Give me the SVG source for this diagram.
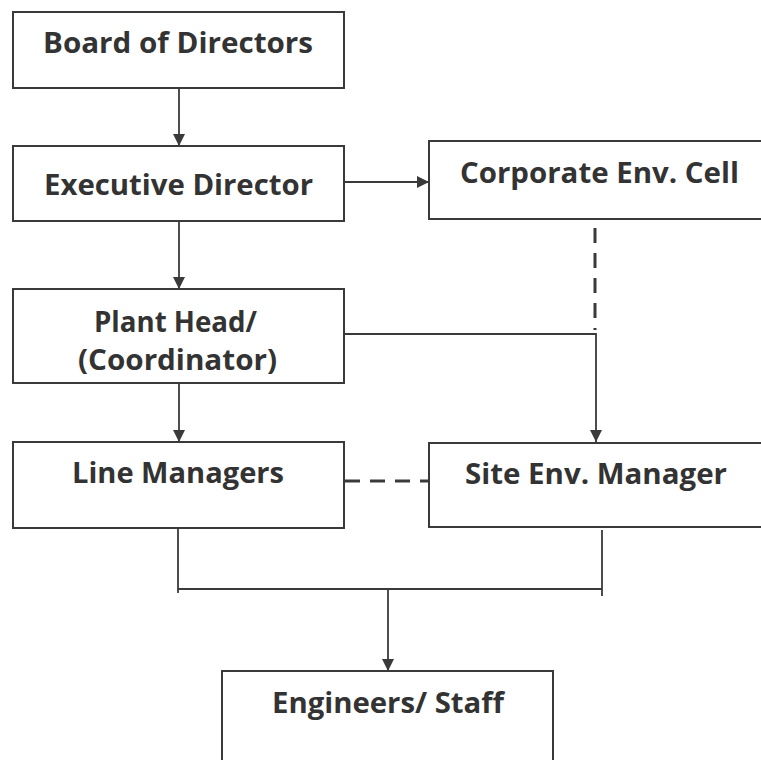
<svg xmlns="http://www.w3.org/2000/svg" width="761" height="760" viewBox="0 0 761 760">
  <style>
    .box { fill: #ffffff; stroke: #3a3a3a; stroke-width: 2; }
    .lbl { font-family: "Open Sans", "Noto Sans", "DejaVu Sans", sans-serif; font-weight: bold; font-size: 28px; fill: #333333; }
    .ln { fill: none; stroke: #3a3a3a; stroke-width: 1.8; }
    .dash { fill: none; stroke: #3a3a3a; stroke-width: 3; stroke-dasharray: 15 10; }
  </style>
  <defs>
    <marker id="arr" viewBox="0 0 12 12" refX="12" refY="6" markerWidth="12" markerHeight="12" markerUnits="userSpaceOnUse" orient="auto">
      <path d="M0,0 L12,6 L0,12 Z" fill="#3a3a3a"/>
    </marker>
  </defs>
  <rect width="761" height="760" fill="#ffffff"/>

  <g id="connectors">
    <line class="ln" x1="179" y1="88" x2="179" y2="146" marker-end="url(#arr)"/>
    <line class="ln" x1="179" y1="221" x2="179" y2="289" marker-end="url(#arr)"/>
    <line class="ln" x1="179" y1="383" x2="179" y2="442" marker-end="url(#arr)"/>
    <line class="ln" x1="344" y1="182" x2="429" y2="182" marker-end="url(#arr)"/>
    <path class="ln" d="M344 334 H596 V442" marker-end="url(#arr)"/>
    <line class="dash" x1="595" y1="228" x2="595" y2="330"/>
    <line class="dash" x1="345" y1="481" x2="429" y2="481"/>
    <path class="ln" d="M178 528 V593"/>
    <path class="ln" d="M602 530 V596"/>
    <path class="ln" d="M178 589 H602"/>
    <line class="ln" x1="388" y1="589" x2="388" y2="671" marker-end="url(#arr)"/>
  </g>

  <g id="board">
    <rect class="box" x="13" y="12" width="331" height="76"/>
    <text class="lbl" x="178" y="53" text-anchor="middle" textLength="270" lengthAdjust="spacingAndGlyphs">Board of Directors</text>
  </g>
  <g id="executive">
    <rect class="box" x="13" y="146" width="331" height="75"/>
    <text class="lbl" x="178.5" y="195" text-anchor="middle" textLength="269" lengthAdjust="spacingAndGlyphs">Executive Director</text>
  </g>
  <g id="corporate">
    <rect class="box" x="429" y="141" width="345" height="78"/>
    <text class="lbl" x="599.5" y="183" text-anchor="middle" textLength="279" lengthAdjust="spacingAndGlyphs">Corporate Env. Cell</text>
  </g>
  <g id="plant">
    <rect class="box" x="13" y="289" width="331" height="94"/>
    <text class="lbl" x="175.5" y="332" text-anchor="middle" textLength="163" lengthAdjust="spacingAndGlyphs">Plant Head/</text>
    <text class="lbl" x="177.5" y="370" text-anchor="middle" textLength="199" lengthAdjust="spacingAndGlyphs">(Coordinator)</text>
  </g>
  <g id="line-managers">
    <rect class="box" x="13" y="442" width="331" height="86"/>
    <text class="lbl" x="178" y="483" text-anchor="middle" textLength="212" lengthAdjust="spacingAndGlyphs">Line Managers</text>
  </g>
  <g id="site-env">
    <rect class="box" x="429" y="443" width="345" height="84"/>
    <text class="lbl" x="596" y="484" text-anchor="middle" textLength="262" lengthAdjust="spacingAndGlyphs">Site Env. Manager</text>
  </g>
  <g id="engineers">
    <rect class="box" x="222" y="671" width="331" height="110"/>
    <text class="lbl" x="388" y="713" text-anchor="middle" textLength="232" lengthAdjust="spacingAndGlyphs">Engineers/ Staff</text>
  </g>
</svg>
